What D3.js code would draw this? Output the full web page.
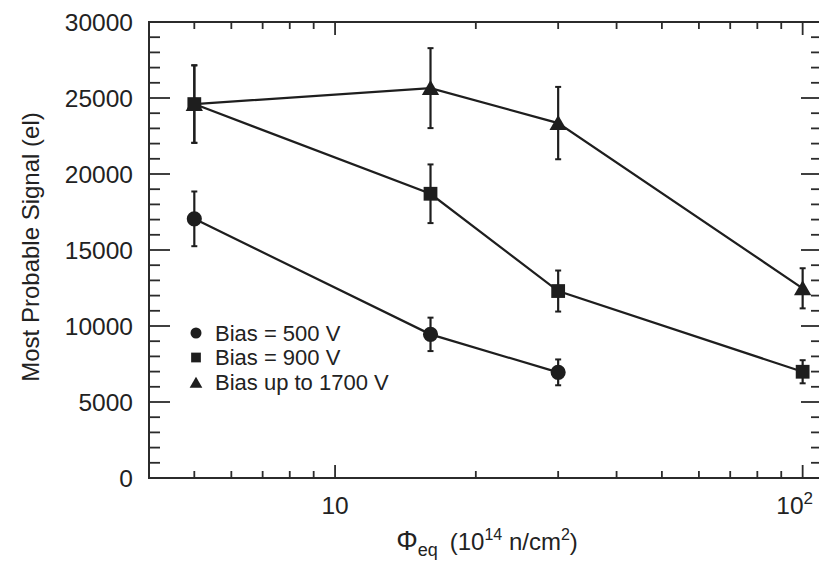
<!DOCTYPE html>
<html>
<head>
<meta charset="utf-8">
<script src="https://cdn.jsdelivr.net/npm/d3@7"></script>
<style>
 body { margin: 0; background: #fff; }
 svg { font-family: "Liberation Sans", Arial, sans-serif; overflow: hidden; }
</style>
</head>
<body>
<div id="chart"></div>
<script>
// data
var fluence = [5, 16, 30, 100];
var bias500 = [17050, 9450, 6950];
var bias500Err = [1800, 1100, 850];
var bias900 = [24600, 18700, 12300, 6990];
var bias900Err = [2550, 1930, 1350, 760];
var bias1700 = [24600, 25650, 23350, 12480];
var bias1700Err = [2550, 2630, 2380, 1320];
var yTicks = [0, 5000, 10000, 15000, 20000, 25000, 30000];
var legendLabels = ["Bias = 500 V", "Bias = 900 V", "Bias up to 1700 V"];

// set the dimensions and margins of the graph
var margin = { top: 22, right: -3, bottom: 85, left: 149 },
  width = 819 - margin.left - margin.right,
  height = 563 - margin.top - margin.bottom;

var svg = d3.select("#chart").append("svg")
  .attr("width", 819)
  .attr("height", 563);

var g = svg.append("g")
  .attr("transform", "translate(" + margin.left + "," + margin.top + ")");

// set the ranges
var x = d3.scaleLog().domain([4, 110]).range([0, width]);
var y = d3.scaleLinear().domain([0, 30000]).range([height, 0]);

var ink = "#1e1e1e";

// frame
g.append("rect")
  .attr("width", width).attr("height", height)
  .attr("fill", "none").attr("stroke", "#2b2b2b").attr("stroke-width", 2);

// x ticks (log decades), on bottom and top, pointing inward
var xMinor = [5, 6, 7, 8, 9, 20, 30, 40, 50, 60, 70, 80, 90];
var xMajor = [10, 100];
[0, height].forEach(function (yy) {
  var dir = yy === 0 ? 1 : -1;
  g.selectAll(null).data(xMinor).enter().append("line")
    .attr("x1", function (d) { return x(d); }).attr("x2", function (d) { return x(d); })
    .attr("y1", yy).attr("y2", yy + dir * 7)
    .attr("stroke", "#2b2b2b").attr("stroke-width", 1.8);
  g.selectAll(null).data(xMajor).enter().append("line")
    .attr("x1", function (d) { return x(d); }).attr("x2", function (d) { return x(d); })
    .attr("y1", yy).attr("y2", yy + dir * 13)
    .attr("stroke", "#2b2b2b").attr("stroke-width", 1.8);
});

// y ticks on left and right, pointing inward
var yMinor = d3.range(0, 30001, 1000).filter(function (d) { return d % 5000 !== 0; });
[0, width].forEach(function (xx) {
  var dir = xx === 0 ? 1 : -1;
  g.selectAll(null).data(yMinor).enter().append("line")
    .attr("y1", function (d) { return y(d); }).attr("y2", function (d) { return y(d); })
    .attr("x1", xx).attr("x2", xx + dir * 11)
    .attr("stroke", "#2b2b2b").attr("stroke-width", 1.8);
  g.selectAll(null).data(yTicks).enter().append("line")
    .attr("y1", function (d) { return y(d); }).attr("y2", function (d) { return y(d); })
    .attr("x1", xx).attr("x2", xx + dir * 21)
    .attr("stroke", "#2b2b2b").attr("stroke-width", 1.8);
});

// y tick labels
g.selectAll(null).data(yTicks).enter().append("text")
  .attr("x", -16).attr("y", function (d) { return y(d); })
  .attr("dy", "0.36em")
  .attr("text-anchor", "end")
  .attr("font-size", 24.5)
  .attr("fill", "#222")
  .text(function (d) { return d; });

// x tick labels
g.append("text")
  .attr("x", x(10)).attr("y", height + 36)
  .attr("text-anchor", "middle").attr("font-size", 24.5).attr("fill", "#222")
  .text("10");
var lab100 = g.append("text")
  .attr("x", x(100) - 8).attr("y", height + 36)
  .attr("text-anchor", "middle").attr("font-size", 24.5).attr("fill", "#222");
lab100.append("tspan").text("10");
lab100.append("tspan").attr("dy", -10).attr("font-size", 17).text("2");

// axis titles
svg.append("text")
  .attr("transform", "translate(39," + 247 + ") rotate(-90)")
  .attr("text-anchor", "middle").attr("font-size", 24).attr("fill", "#222")
  .text("Most Probable Signal (el)");

var xt = svg.append("text")
  .attr("x", 487).attr("y", 550)
  .attr("text-anchor", "middle").attr("font-size", 24).attr("fill", "#222");
xt.append("tspan").attr("font-size", 27).text("\u03A6");
xt.append("tspan").attr("dy", 6).attr("font-size", 18).text("eq");
xt.append("tspan").attr("dy", -6).text("\u2002(10");
xt.append("tspan").attr("dy", -10).attr("font-size", 16).text("14");
xt.append("tspan").attr("dy", 10).text(" n/cm");
xt.append("tspan").attr("dy", -10).attr("font-size", 16).text("2");
xt.append("tspan").attr("dy", 10).text(")");

// series
var series = [
  { vals: bias500, err: bias500Err, sym: d3.symbolCircle, size: 180 },
  { vals: bias900, err: bias900Err, sym: d3.symbolSquare, size: 190 },
  { vals: bias1700, err: bias1700Err, sym: d3.symbolTriangle, size: 130 }
];

var line = d3.line()
  .x(function (d) { return x(d.x); })
  .y(function (d) { return y(d.y); });

series.slice().reverse().forEach(function (s) {
  var pts = s.vals.map(function (v, i) { return { x: fluence[i], y: v, e: s.err[i] }; });

  g.append("path")
    .datum(pts)
    .attr("d", line)
    .attr("fill", "none").attr("stroke", ink).attr("stroke-width", 2.2);

  // error bars
  var eb = g.selectAll(null).data(pts).enter().append("g");
  eb.append("line")
    .attr("x1", function (d) { return x(d.x); }).attr("x2", function (d) { return x(d.x); })
    .attr("y1", function (d) { return y(d.y - d.e); }).attr("y2", function (d) { return y(d.y + d.e); })
    .attr("stroke", ink).attr("stroke-width", 2.2);
  [-1, 1].forEach(function (sgn) {
    eb.append("line")
      .attr("x1", function (d) { return x(d.x) - 3; }).attr("x2", function (d) { return x(d.x) + 3; })
      .attr("y1", function (d) { return y(d.y + sgn * d.e); }).attr("y2", function (d) { return y(d.y + sgn * d.e); })
      .attr("stroke", ink).attr("stroke-width", 2);
  });

  g.selectAll(null).data(pts).enter().append("path")
    .attr("transform", function (d) {
      var dy = s.sym === d3.symbolTriangle ? 2 : 0;
      return "translate(" + x(d.x) + "," + (y(d.y) + dy) + ")";
    })
    .attr("d", d3.symbol().type(s.sym).size(s.size))
    .attr("fill", ink);
});

// legend
var legend = g.append("g").attr("transform", "translate(47,311)");
var legSyms = [
  { sym: d3.symbolCircle, size: 95 },
  { sym: d3.symbolSquare, size: 95 },
  { sym: d3.symbolTriangle, size: 70 }
];
legendLabels.forEach(function (lbl, i) {
  var row = legend.append("g").attr("transform", "translate(0," + (i * 24.5) + ")");
  row.append("path")
    .attr("d", d3.symbol().type(legSyms[i].sym).size(legSyms[i].size))
    .attr("transform", i === 2 ? "translate(0,2)" : null)
    .attr("fill", ink);
  row.append("text")
    .attr("x", 19).attr("y", 0).attr("dy", "0.36em")
    .attr("font-size", 22).attr("fill", "#222")
    .text(lbl);
});
</script>
</body>
</html>
